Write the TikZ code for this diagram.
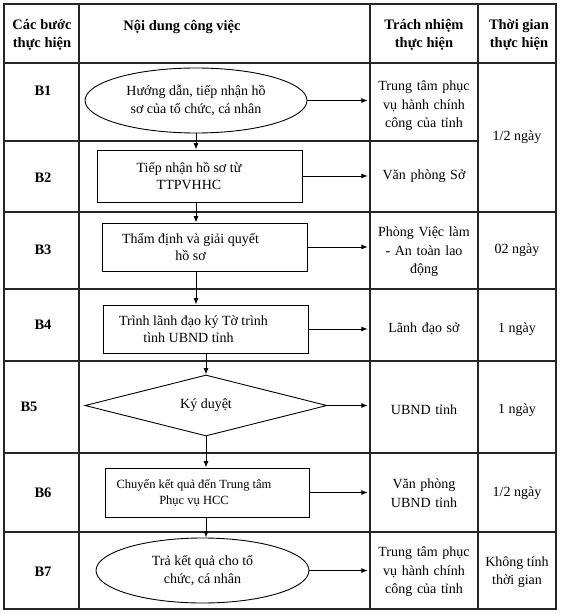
\documentclass[tikz,border=0pt]{standalone}
\usepackage{fontspec}
\setmainfont{Liberation Serif}
\usetikzlibrary{shapes.geometric,arrows.meta}
\newcommand{\padr}[1]{\hspace*{#1}}
\begin{document}
\begin{tikzpicture}[x=1pt,y=-1pt,
  grid/.style={line width=1.2pt, black!85},
  hdr/.style={font=\fontsize{14.5}{17.5}\selectfont\bfseries, align=center, inner sep=0pt},
  stepl/.style={font=\fontsize{14.5}{17.5}\selectfont\bfseries, inner sep=0pt},
  txt/.style={font=\fontsize{14}{18.5}\selectfont, align=center, inner sep=0pt},
  resp/.style={txt, text width=100pt, inner xsep=3pt},
  shp/.style={draw, line width=0.9pt, font=\fontsize{14}{17.5}\selectfont, align=center, inner sep=0pt},
  boxs/.style={shp, rectangle},
  ell/.style={shp, ellipse},
  dia/.style={shp, diamond, aspect=4},
  arr/.style={-{Latex[length=6.5pt,width=5pt]}, line width=0.9pt},
]
\useasboundingbox (0,0) rectangle (560,615);
\fill[white] (0,0) rectangle (560,615);
% table grid
\draw[grid] (4,4) rectangle (556,609);
\foreach \y in {63,212,289,361,453,532} \draw[grid] (4,\y) -- (556,\y);
\draw[grid] (4,141) -- (478,141);
\foreach \x in {79,370,478} \draw[grid] (\x,4) -- (\x,609);
% headers
\node[hdr] (h1) at (42,35) {Các bước\\thực hiện};
\node[hdr] (h2) at (182,27) {Nội dung công việc};
\node[hdr] (h3) at (424,35) {Trách nhiệm\\thực hiện};
\node[hdr] (h4) at (519,35) {Thời gian\\thực hiện};
% step labels
\node[stepl] (s1) at (43,91) {B1};
\node[stepl] (s2) at (43,178) {B2};
\node[stepl] (s3) at (43,250) {B3};
\node[stepl] (s4) at (43,325) {B4};
\node[stepl] (s5) at (29,407) {B5};
\node[stepl] (s6) at (43,493) {B6};
\node[stepl] (s7) at (43,572) {B7};
% flow shapes
\node[ell, minimum width=222pt, minimum height=65pt] (e1) at (196,100.5) {Hướng dẫn, tiếp nhận hồ\\sơ của tổ chức, cá nhân};
\node[boxs, minimum width=205pt, minimum height=52pt] (b2) at (199.5,176) {Tiếp nhận hồ sơ từ\padr{21pt}\\TTPVHHC\padr{21pt}};
\node[boxs, minimum width=205pt, minimum height=48pt] (b3) at (204.5,247) {Thẩm định và giải quyết\padr{28pt}\\hồ sơ\padr{28pt}};
\node[boxs, minimum width=205pt, minimum height=48pt] (b4) at (205.5,329) {Trình lãnh đạo ký Tờ trình\padr{24pt}\\tình UBND tỉnh\padr{34pt}};
\node[dia, minimum width=242pt, minimum height=61pt] (d5) at (206,405.5) {Ký duyệt};
\node[boxs, font=\fontsize{12.5}{16}\selectfont, minimum width=204pt, minimum height=49pt] (b6) at (207,492.5) {Chuyển kết quả đến Trung tâm\padr{26pt}\\Phục vụ HCC\padr{26pt}};
\node[ell, minimum width=213pt, minimum height=65pt] (e7) at (202.5,570.5) {Trả kết quả cho tổ\\chức, cá nhân};
% responsibility
\node[resp] (r1) at (424,106) {Trung tâm phục\\vụ hành chính\\công của tỉnh};
\node[resp] (r2) at (424,176.5) {Văn phòng Sở};
\node[resp] (r3) at (424,252) {Phòng Việc làm\\- An toàn lao\\động};
\node[resp] (r4) at (424,329) {Lãnh đạo sở};
\node[resp] (r5) at (424,410) {UBND tỉnh};
\node[resp] (r6) at (424,493) {Văn phòng\\UBND tỉnh};
\node[resp] (r7) at (424,572) {Trung tâm phục\\vụ hành chính\\công của tỉnh};
% time
\node[txt] (t12) at (517,137) {1/2 ngày};
\node[txt] (t3) at (517,250) {02 ngày};
\node[txt] (t4) at (517,329) {1 ngày};
\node[txt] (t5) at (517,410) {1 ngày};
\node[txt] (t6) at (517,493) {1/2 ngày};
\node[txt] (t7) at (517,572) {Không tính\\thời gian};
% horizontal arrows
\draw[arr, shorten >=3pt] (e1.east) -- (e1.east -| r1.west);
\draw[arr, shorten >=3pt] (b2.east) -- (b2.east -| r2.west);
\draw[arr, shorten >=3pt] (b3.east) -- (b3.east -| r3.west);
\draw[arr, shorten >=3pt] (b4.east) -- (b4.east -| r4.west);
\draw[arr, shorten >=3pt] (d5.east) -- (d5.east -| r5.west);
\draw[arr, shorten >=3pt] (b6.east) -- (b6.east -| r6.west);
\draw[arr, shorten >=3pt] (e7.east) -- (e7.east -| r7.west);
% vertical arrows
\draw[arr] (e1.south) -- (b2.north -| e1.south);
\draw[arr] (b2.south -| e1.south) -- (b3.north -| e1.south);
\draw[arr] (b3.south -| e1.south) -- (b4.north -| e1.south);
\draw[arr] (b4.south -| d5.north) -- (d5.north);
\draw[arr] (d5.south) -- (b6.north -| d5.south);
\draw[arr] (b6.south -| d5.south) -- (e7.north -| d5.south);
\end{tikzpicture}
\end{document}
